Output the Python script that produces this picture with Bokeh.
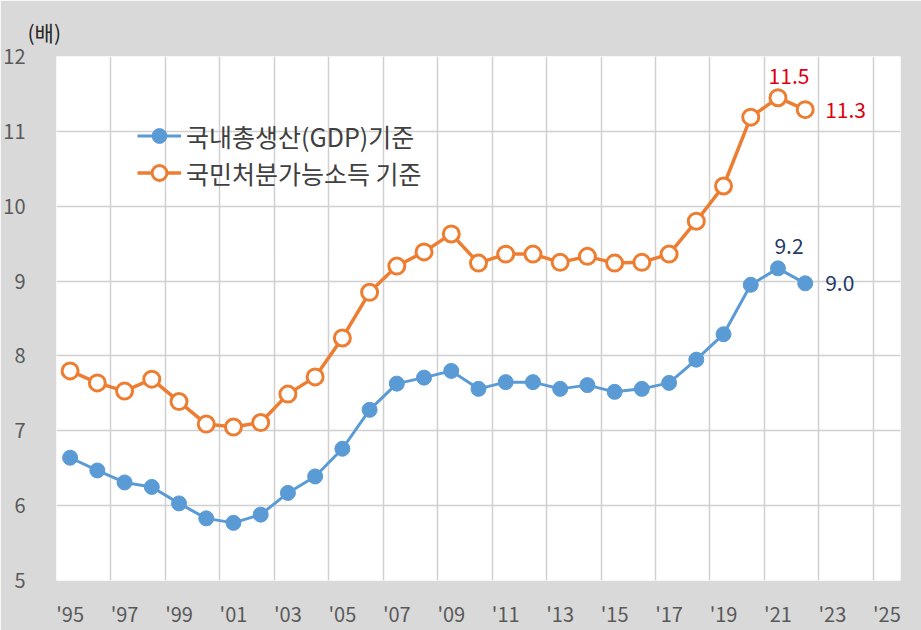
from bokeh.plotting import figure
from bokeh.models import (Range1d, FixedTicker, Label, Legend, LegendItem,
                          ColumnDataSource, Title)
from bokeh.embed import file_html
from bokeh.resources import INLINE

years = list(range(1995, 2023))
gdp = [6.64, 6.47, 6.31, 6.25, 6.03, 5.83, 5.77, 5.88, 6.17, 6.39, 6.76, 7.28,
       7.63, 7.71, 7.80, 7.56, 7.65, 7.65, 7.56, 7.61, 7.52, 7.56, 7.64, 7.95,
       8.29, 8.95, 9.17, 8.97]
ndi = [7.80, 7.64, 7.53, 7.69, 7.39, 7.09, 7.05, 7.11, 7.49, 7.72, 8.24, 8.85,
       9.20, 9.39, 9.63, 9.24, 9.36, 9.36, 9.25, 9.33, 9.24, 9.25, 9.36, 9.80,
       10.27, 11.19, 11.45, 11.29]
series_names = ["국내총생산(GDP)기준", "국민처분가능소득 기준"]
x_ticks = list(range(1995, 2026, 2))
x_tick_labels = ["'" + str(y)[2:] for y in x_ticks]
y_ticks = [5, 6, 7, 8, 9, 10, 11, 12]
unit_label = "(배)"
ann_ndi_text = ["11.5", "11.3"]
ann_gdp_text = ["9.2", "9.0"]

BLUE = "#5B9BD5"
ORANGE = "#ED7D31"
BG = "#D9D9D9"
TXT = "#595959"
FONT = "Noto Sans CJK KR"

p = figure(width=921, height=630, output_backend="svg", toolbar_location=None,
           x_range=Range1d(1994.5, 2025.5), y_range=Range1d(5, 12),
           min_border_left=53, min_border_right=21, min_border_top=56,
           min_border_bottom=50, title=None)
p.border_fill_color = BG
p.background_fill_color = "white"
p.outline_line_color = None

title = Title(text=unit_label, align="left", offset=-29, standoff=19,
              text_color="#262626", text_font=FONT, text_font_size="21px",
              text_font_style="normal")
p.add_layout(title, "above")

# axes
for ax in (p.xaxis[0], p.yaxis[0]):
    ax.axis_line_color = None
    ax.major_tick_line_color = None
    ax.minor_tick_line_color = None
    ax.major_label_text_color = TXT
    ax.major_label_text_font = FONT
    ax.major_label_text_font_size = "20px"

p.xaxis[0].ticker = FixedTicker(ticks=x_ticks)
p.xaxis[0].major_label_overrides = {t: l for t, l in zip(x_ticks, x_tick_labels)}
p.xaxis[0].major_label_standoff = 12
p.yaxis[0].ticker = FixedTicker(ticks=y_ticks)
p.yaxis[0].major_label_standoff = 25

# grids
p.xgrid.ticker = FixedTicker(ticks=[t - 0.5 for t in x_ticks] + [2025.5])
p.xgrid.grid_line_color = "#D0D0D0"
p.xgrid.grid_line_width = 1.5
p.ygrid.ticker = FixedTicker(ticks=y_ticks)
p.ygrid.grid_line_color = "#D0D0D0"
p.ygrid.grid_line_width = 1.5

src = ColumnDataSource(dict(x=years, gdp=gdp, ndi=ndi))

l1 = p.line("x", "gdp", source=src, line_color=BLUE, line_width=3)
c1 = p.scatter("x", "gdp", source=src, size=15, fill_color=BLUE,
               line_color=BLUE, line_width=1)
l2 = p.line("x", "ndi", source=src, line_color=ORANGE, line_width=3.5)
c2 = p.scatter("x", "ndi", source=src, size=16, fill_color="white",
               line_color=ORANGE, line_width=3)

legend = Legend(items=[LegendItem(label=series_names[0], renderers=[l1, c1]),
                       LegendItem(label=series_names[1], renderers=[l2, c2])],
                location=(81, 389), orientation="vertical",
                background_fill_alpha=0, border_line_color=None,
                label_text_font=FONT, label_text_font_size="25px",
                label_text_color="#404040", glyph_width=44, glyph_height=37,
                label_height=30, label_standoff=5, spacing=-10, padding=0,
                margin=0)
p.add_layout(legend)

# annotations
p.add_layout(Label(x=years[-2], y=ndi[-2], text=ann_ndi_text[0], x_offset=11,
                   y_offset=14, text_align="center", text_baseline="bottom",
                   text_color="#E0000F", text_font=FONT, text_font_size="21px"))
p.add_layout(Label(x=years[-1], y=ndi[-1], text=ann_ndi_text[1], x_offset=20,
                   y_offset=0, text_align="left", text_baseline="middle",
                   text_color="#E0000F", text_font=FONT, text_font_size="21px"))
p.add_layout(Label(x=years[-2], y=gdp[-2], text=ann_gdp_text[0], x_offset=11,
                   y_offset=14, text_align="center", text_baseline="bottom",
                   text_color="#1F3864", text_font=FONT, text_font_size="21px"))
p.add_layout(Label(x=years[-1], y=gdp[-1], text=ann_gdp_text[1], x_offset=20,
                   y_offset=0, text_align="left", text_baseline="middle",
                   text_color="#1F3864", text_font=FONT, text_font_size="21px"))

open("out.html", "w").write(file_html(p, INLINE))
